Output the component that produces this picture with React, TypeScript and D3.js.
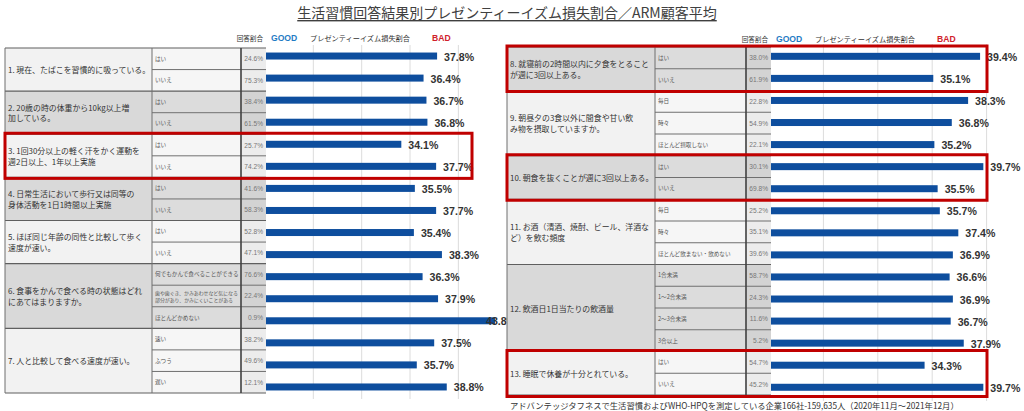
import React from "react";
import * as d3 from "d3";

const W = 1024;
const H = 411;

const titleText = "生活習慣回答結果別プレゼンティーイズム損失割合／ARM顧客平均";
const footerText =
  "アドバンテッジタフネスで生活習慣およびWHO-HPQを測定している企業166社-159,635人（2020年11月～2021年12月）";
const headerLabels = ["回答割合", "GOOD", "プレゼンティーイズム損失割合", "BAD"];
const axisDomain = [20, 45];
const gridTicks = [25, 30, 35, 40];

const leftQuestions = [
  ["1. 現在、たばこを習慣的に吸っている。"],
  ["2. 20歳の時の体重から10kg以上増", "加している。"],
  ["3. 1回30分以上の軽く汗をかく運動を", "週2日以上、1年以上実施"],
  ["4. 日常生活において歩行又は同等の", "身体活動を1日1時間以上実施"],
  ["5. ほぼ同じ年齢の同性と比較して歩く", "速度が速い。"],
  ["6. 食事をかんで食べる時の状態はどれ", "にあてはまりますか。"],
  ["7. 人と比較して食べる速度が速い。"],
];
const leftOptions = [
  ["はい", "いいえ"],
  ["はい", "いいえ"],
  ["はい", "いいえ"],
  ["はい", "いいえ"],
  ["はい", "いいえ"],
  ["何でもかんで食べることができる", "歯や歯ぐき、かみあわせなど気になる\n部分があり、かみにくいことがある", "ほとんどかめない"],
  ["速い", "ふつう", "遅い"],
];
const leftShares = [
  [24.6, 75.3],
  [38.4, 61.5],
  [25.7, 74.2],
  [41.6, 58.3],
  [52.8, 47.1],
  [76.6, 22.4, 0.9],
  [38.2, 49.6, 12.1],
];
const leftLoss = [
  [37.8, 36.4],
  [36.7, 36.8],
  [34.1, 37.7],
  [35.5, 37.7],
  [35.4, 38.3],
  [36.3, 37.9, 43.8],
  [37.5, 35.7, 38.8],
];
const leftHighlights = [2];

const rightQuestions = [
  ["8. 就寝前の2時間以内に夕食をとること", "が週に3回以上ある。"],
  ["9. 朝昼夕の3食以外に間食や甘い飲", "み物を摂取していますか。"],
  ["10. 朝食を抜くことが週に3回以上ある。"],
  ["11. お酒（清酒、焼酎、ビール、洋酒な", "ど）を飲む頻度"],
  ["12. 飲酒日1日当たりの飲酒量"],
  ["13. 睡眠で休養が十分とれている。"],
];
const rightOptions = [
  ["はい", "いいえ"],
  ["毎日", "時々", "ほとんど摂取しない"],
  ["はい", "いいえ"],
  ["毎日", "時々", "ほとんど飲まない・飲めない"],
  ["1合未満", "1～2合未満", "2～3合未満", "3合以上"],
  ["はい", "いいえ"],
];
const rightShares = [
  [38.0, 61.9],
  [22.8, 54.9, 22.1],
  [30.1, 69.8],
  [25.2, 35.1, 39.6],
  [58.7, 24.3, 11.6, 5.2],
  [54.7, 45.2],
];
const rightLoss = [
  [39.4, 35.1],
  [38.3, 36.8, 35.2],
  [39.7, 35.5],
  [35.7, 37.4, 36.9],
  [36.6, 36.9, 36.7, 37.9],
  [34.3, 39.7],
];
const rightHighlights = [0, 2, 5];

const JP = "'Noto Sans CJK JP', 'Noto Sans', sans-serif";
const LAT = "'Liberation Sans', Arial, sans-serif";
const BAR = "#0e4e9e";

type Geo = {
  x0: number;
  optX: number;
  ansX: number;
  barX: number;
  xRange: [number, number];
  top: number;
  bottom: number;
  barRange: [number, number];
  boxRight: number;
  labelMax: number;
  headerY: number;
  qOffset: number;
};

function Panel(props: {
  questions: string[][];
  options: string[][];
  shares: number[][];
  loss: number[][];
  highlights: number[];
  g: Geo;
}) {
  const { questions, options, shares, loss, highlights, g } = props;
  const rows: { gi: number; ri: number; opt: string; share: number; loss: number; first: boolean }[] = [];
  const groupStart: number[] = [];
  options.forEach((opts, gi) => {
    groupStart.push(rows.length);
    opts.forEach((o, k) =>
      rows.push({ gi, ri: rows.length, opt: o, share: shares[gi][k], loss: loss[gi][k], first: k === 0 })
    );
  });
  const n = rows.length;
  const rowY = d3.scaleBand<number>().domain(d3.range(n)).range([g.top, g.bottom]);
  const barY = d3.scaleBand<number>().domain(d3.range(n)).range(g.barRange);
  const x = d3.scaleLinear().domain(axisDomain).range(g.xRange);
  const step = rowY.step();
  const barH = 7;
  const light = (gi: number) => (gi + g.qOffset) % 2 === 0;

  return (
    <g>
      {gridTicks.map((t) => (
        <line key={t} x1={x(t)} x2={x(t)} y1={g.top - 3} y2={g.bottom + 6} stroke="#dcdcdc" strokeWidth={1} />
      ))}
      <text x={g.barX - 3} y={g.headerY} textAnchor="end" fontFamily={JP} fontSize={6.6} fill="#333" dominantBaseline="central">
        {headerLabels[0]}
      </text>
      <text x={g.barX + 5} y={g.headerY} fontFamily={LAT} fontWeight="bold" fontSize={8.6} fill="#1f7bc4" dominantBaseline="central">
        {headerLabels[1]}
      </text>
      <text x={g.barX + 44} y={g.headerY} fontFamily={JP} fontSize={7.2} fill="#333" dominantBaseline="central">
        {headerLabels[2]}
      </text>
      <text x={g.barX + 166} y={g.headerY} fontFamily={LAT} fontWeight="bold" fontSize={8.6} fill="#d0202a" dominantBaseline="central">
        {headerLabels[3]}
      </text>
      {questions.map((lines, gi) => {
        const y0 = rowY(groupStart[gi])!;
        const h = options[gi].length * step;
        const cy = y0 + h / 2;
        const lh = 10.5;
        return (
          <g key={"q" + gi}>
            <rect x={g.x0} y={y0} width={g.optX - g.x0} height={h} fill={light(gi) ? "#f2f2f2" : "#d9d9d9"} />
            {lines.map((ln, li) => (
              <text
                key={li}
                x={g.x0 + 3}
                y={cy + (li - (lines.length - 1) / 2) * lh}
                fontFamily={JP}
                fontSize={7.9}
                fill="#333"
                dominantBaseline="central"
              >
                {ln}
              </text>
            ))}
          </g>
        );
      })}
      {rows.map((r) => {
        const y0 = rowY(r.ri)!;
        const lt = light(r.gi);
        const optLines = r.opt.split("\n");
        return (
          <g key={"r" + r.ri}>
            <rect x={g.optX} y={y0} width={g.ansX - g.optX} height={step} fill={lt ? "#f6f6f6" : "#dcdcdc"} />
            <rect x={g.ansX} y={y0} width={g.barX - g.ansX} height={step} fill={lt ? "#ececec" : "#d3d3d3"} />
            {optLines.map((ol, k) => (
              <text
                key={k}
                x={g.optX + 3}
                y={y0 + step / 2 + (k - (optLines.length - 1) / 2) * 6.2}
                fontFamily={JP}
                fontSize={optLines.length > 1 ? 4.9 : 5.6}
                fill="#555"
                dominantBaseline="central"
              >
                {ol}
              </text>
            ))}
            <text
              x={g.barX - 3}
              y={y0 + step / 2}
              textAnchor="end"
              fontFamily={LAT}
              fontSize={6.6}
              fill="#777"
              dominantBaseline="central"
            >
              {r.share.toFixed(1) + "%"}
            </text>
          </g>
        );
      })}
      {rows.map((r) =>
        r.first ? null : (
          <line key={"b" + r.ri} x1={g.optX} x2={g.barX} y1={rowY(r.ri)!} y2={rowY(r.ri)!} stroke="#6f6f6f" strokeWidth={1} />
        )
      )}
      {groupStart.concat([n]).map((s, k) => {
        const yy = s === n ? g.bottom : rowY(s)!;
        return <line key={"gb" + k} x1={g.x0} x2={g.barX} y1={yy} y2={yy} stroke="#5f5f5f" strokeWidth={1.2} />;
      })}
      <line x1={g.x0} x2={g.x0} y1={g.top} y2={g.bottom} stroke="#6f6f6f" strokeWidth={1} />
      <line x1={g.optX} x2={g.optX} y1={g.top} y2={g.bottom} stroke="#6f6f6f" strokeWidth={1} />
      <line x1={g.ansX} x2={g.ansX} y1={g.top} y2={g.bottom} stroke="#404040" strokeWidth={1.6} />
      {rows.map((r) => {
        const cy = barY(r.ri)! + barY.step() / 2;
        const xe = x(r.loss);
        return (
          <g key={"bar" + r.ri}>
            <rect x={g.barX} y={cy - barH / 2} width={xe - g.barX} height={barH} fill={BAR} />
            <text
              x={Math.min(xe + 7, g.labelMax)}
              y={cy + 0.5}
              fontFamily={LAT}
              fontWeight="bold"
              fontSize={10.6}
              fill="#333"
              dominantBaseline="central"
            >
              {r.loss.toFixed(1) + "%"}
            </text>
          </g>
        );
      })}
      {highlights.map((gi) => {
        const s = groupStart[gi];
        const e = s + options[gi].length;
        const y1 = rowY(s)! - 1;
        const y2 = e === n ? g.bottom + 1.5 : rowY(e)! + 1;
        return (
          <rect
            key={"h" + gi}
            x={g.x0}
            y={y1}
            width={g.boxRight - g.x0}
            height={y2 - y1}
            fill="none"
            stroke="#c00000"
            strokeWidth={3}
          />
        );
      })}
    </g>
  );
}

const leftGeo: Geo = {
  x0: 5,
  optX: 152,
  ansX: 241,
  barX: 266,
  xRange: [265, 506.7],
  top: 48,
  bottom: 393,
  barRange: [45, 398],
  boxRight: 472,
  labelMax: 486,
  headerY: 38,
  qOffset: 0,
};
const rightGeo: Geo = {
  x0: 507,
  optX: 655,
  ansX: 746,
  barX: 771,
  xRange: [769, 1041],
  top: 47,
  bottom: 395,
  barRange: [45.3, 398.3],
  boxRight: 987,
  labelMax: 1000,
  headerY: 39,
  qOffset: 1,
};

export default function App() {
  return (
    <svg width={W} height={H} viewBox={`0 0 ${W} ${H}`} style={{ display: "block", position: "absolute", left: 0, top: 0 }}>
      <rect width={W} height={H} fill="#fff" />
      <text
        x={507}
        y={12}
        textAnchor="middle"
        fontFamily={JP}
        fontSize={14}
        fill="#404040"
        dominantBaseline="central"
        style={{ textDecoration: "underline" }}
      >
        {titleText}
      </text>
      <Panel
        questions={leftQuestions}
        options={leftOptions}
        shares={leftShares}
        loss={leftLoss}
        highlights={leftHighlights}
        g={leftGeo}
      />
      <Panel
        questions={rightQuestions}
        options={rightOptions}
        shares={rightShares}
        loss={rightLoss}
        highlights={rightHighlights}
        g={rightGeo}
      />
      <text x={510} y={405} fontFamily={JP} fontSize={8.3} fill="#333" dominantBaseline="central">
        {footerText}
      </text>
    </svg>
  );
}
